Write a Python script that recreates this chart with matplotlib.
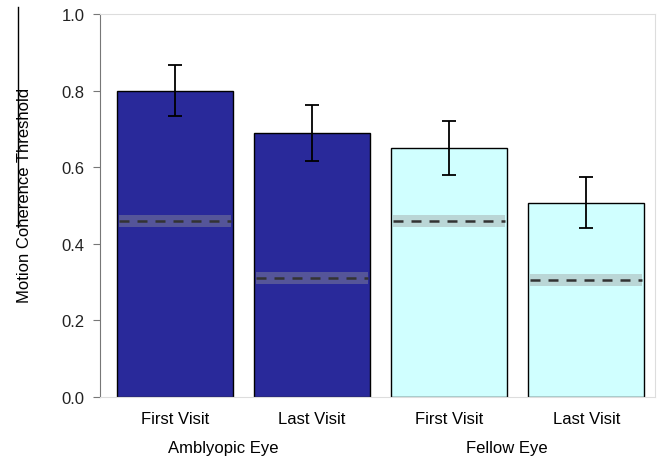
import matplotlib.pyplot as plt
from matplotlib.lines import Line2D

# data
visits = ["First Visit", "Last Visit", "First Visit", "Last Visit"]
groups = ["Amblyopic Eye", "Fellow Eye"]
thresholds = [0.80, 0.69, 0.65, 0.507]
errors = [0.067, 0.073, 0.071, 0.067]
chance_levels = [0.46, 0.31, 0.46, 0.305]
chance_band = [0.016, 0.016, 0.016, 0.016]
bar_colors = ["#29299a", "#29299a", "#d0ffff", "#d0ffff"]

plt.rcParams['font.family'] = ['Liberation Sans', 'DejaVu Sans']

fig = plt.figure(figsize=(6.64, 4.6), dpi=100)
ax = fig.add_axes([0.1506, 0.1348, 0.8358, 0.8326])

x = list(range(len(thresholds)))
width = 0.845
ax.bar(x, thresholds, width=width, color=bar_colors, edgecolor='black', linewidth=1.0, zorder=2)
ax.errorbar(x, thresholds, yerr=errors, fmt='none', ecolor='black', elinewidth=1.3,
            capsize=5, capthick=1.3, zorder=4)

# dashed reference line with a shaded band inside each bar
for xi, lvl, band in zip(x, chance_levels, chance_band):
    x0, x1 = xi - width / 2 + 0.015, xi + width / 2 - 0.015
    ax.fill_between([x0, x1], lvl - band, lvl + band, color='#999999', alpha=0.4,
                    linewidth=0, zorder=3)
    ax.plot([x0, x1], [lvl, lvl], color='#333333', lw=1.8, dashes=(4, 3.2), zorder=3)

ax.set_xlim(-0.545, 3.5)
ax.set_ylim(0, 1.0)
ax.set_yticks([0.0, 0.2, 0.4, 0.6, 0.8, 1.0])
ax.set_yticklabels(['0.0', '0.2', '0.4', '0.6', '0.8', '1.0'], fontsize=12, color='#222222')
ax.set_xticks(x)
ax.set_xticklabels(visits, fontsize=12)
ax.tick_params(axis='x', length=0, pad=10)
ax.tick_params(axis='y', length=5, color='#777777', pad=6)

for side in ['top', 'right', 'bottom']:
    ax.spines[side].set_color('#dddddd')
ax.spines['left'].set_color('#777777')

ax.set_ylabel("Motion Coherence Threshold", fontsize=12)
ax.yaxis.set_label_coords(-0.122, 0.53)

# group labels under the visit labels
ax.text(0.35, -0.132, groups[0], transform=ax.get_xaxis_transform(), ha='center', va='center', fontsize=12)
ax.text(2.42, -0.132, groups[1], transform=ax.get_xaxis_transform(), ha='center', va='center', fontsize=12)

# stray vertical stroke seen at the far left of the original
fig.add_artist(Line2D([18 / 664, 18 / 664], [1 - 8 / 460, 1 - 228 / 460],
                      transform=fig.transFigure, color='black', lw=1))

fig.savefig("out.png", dpi=100)
